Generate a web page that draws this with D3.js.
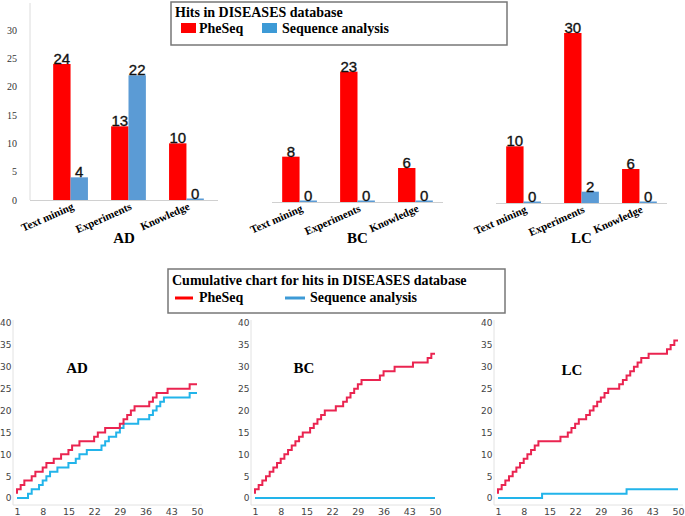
<!DOCTYPE html>
<html>
<head>
<meta charset="utf-8">
<script src="https://cdn.jsdelivr.net/npm/d3@7"></script>
<style>
  body { margin: 0; background: #fff; }
  svg { display: block; }
  .serif { font-family: "Liberation Serif", "Times New Roman", serif; font-weight: bold; fill: #000; }
  .num { font-family: "Liberation Sans", Arial, sans-serif; fill: #111; stroke: #111; stroke-width: 0.35px; }
  .tick text { font-family: "DejaVu Sans", sans-serif; fill: #444; }
</style>
</head>
<body>
<div id="chart"></div>
<script>
var svgWidth = 685;
var svgHeight = 516;

// top row: hits per evidence category
var categories = ["Text mining", "Experiments", "Knowledge"];
var barTicks = [0, 5, 10, 15, 20, 25, 30];

var adPheSeq = [24, 13, 10];
var adSeq = [4, 22, 0];
var bcPheSeq = [8, 23, 6];
var bcSeq = [0, 0, 0];
var lcPheSeq = [10, 30, 6];
var lcSeq = [0, 2, 0];

// bottom row: cumulative hits, k = 1..50
var cumTicksX = [1, 8, 15, 22, 29, 36, 43, 50];
var cumTicksY = [0, 5, 10, 15, 20, 25, 30, 35, 40];

var adPheSeqCum = [1, 2, 3, 4, 4, 5, 6, 6, 7, 8,
  8, 9, 9, 10, 10, 11, 12, 12, 13, 13,
  13, 13, 14, 15, 15, 16, 16, 16, 16, 17,
  18, 19, 20, 21, 21, 21, 21, 22, 23, 24,
  24, 24, 25, 25, 25, 25, 25, 25, 26, 26];
var adSeqCum = [0, 0, 0, 0, 1, 2, 2, 3, 4, 5,
  6, 6, 7, 7, 7, 8, 8, 9, 10, 10,
  11, 11, 11, 11, 12, 13, 14, 14, 15, 16,
  17, 17, 17, 17, 18, 18, 18, 19, 20, 21,
  22, 23, 23, 23, 23, 23, 23, 23, 24, 24];
var bcPheSeqCum = [1, 2, 3, 4, 5, 6, 7, 8, 9, 10,
  11, 12, 13, 14, 15, 15, 16, 17, 18, 19,
  20, 20, 20, 21, 21, 22, 23, 24, 25, 26,
  27, 27, 27, 27, 27, 28, 29, 29, 29, 30,
  30, 30, 30, 30, 31, 31, 31, 31, 32, 33];
var bcSeqCum = [0, 0, 0, 0, 0, 0, 0, 0, 0, 0,
  0, 0, 0, 0, 0, 0, 0, 0, 0, 0,
  0, 0, 0, 0, 0, 0, 0, 0, 0, 0,
  0, 0, 0, 0, 0, 0, 0, 0, 0, 0,
  0, 0, 0, 0, 0, 0, 0, 0, 0, 0];
var lcPheSeqCum = [1, 2, 3, 4, 5, 6, 7, 8, 9, 10,
  11, 12, 13, 13, 13, 13, 13, 13, 14, 14,
  15, 16, 17, 18, 18, 19, 20, 21, 22, 23,
  24, 25, 25, 25, 26, 27, 28, 29, 30, 31,
  32, 32, 33, 33, 33, 33, 33, 34, 35, 36];
var lcSeqCum = [0, 0, 0, 0, 0, 0, 0, 0, 0, 0,
  0, 0, 0, 1, 1, 1, 1, 1, 1, 1,
  1, 1, 1, 1, 1, 1, 1, 1, 1, 1,
  1, 1, 1, 1, 1, 1, 2, 2, 2, 2,
  2, 2, 2, 2, 2, 2, 2, 2, 2, 2];

var barRed = "#ff0000";
var barBlue = "#5b9bd5";
var lineRed = "#ea2450";
var lineBlue = "#22b4ea";

var svg = d3.select("#chart")
  .append("svg")
  .attr("width", svgWidth)
  .attr("height", svgHeight);

// ---- bar panels ----
function drawBars(name, red, blue, p) {
  var g = svg.append("g");

  var x = d3.scaleBand()
    .domain(categories)
    .range([p.bandLeft, p.bandLeft + 197])
    .padding(0.4);

  var sub = d3.scaleBand()
    .domain([0, 1])
    .range([0, x.bandwidth()]);

  var y = d3.scaleLinear()
    .domain([0, 30])
    .range([p.base, p.base - 170]);

  if (p.axis) {
    g.append("line")
      .attr("x1", p.lineLeft).attr("x2", p.lineLeft)
      .attr("y1", p.base).attr("y2", 3)
      .attr("stroke", "#dcdcdc");

    var yAxis = g.append("g")
      .attr("transform", `translate(${p.lineLeft},0)`)
      .call(d3.axisLeft(y).tickValues(barTicks).tickSize(0).tickPadding(13));
    yAxis.select(".domain").remove();
    yAxis.selectAll("text")
      .style("font-family", "'Liberation Serif', serif")
      .style("font-size", "10px")
      .style("fill", "#333");
  }

  var groups = g.selectAll(".grp")
    .data(categories)
    .enter()
    .append("g")
    .attr("transform", d => `translate(${x(d)},0)`);

  var pairs = categories.map((c, i) => [red[i], blue[i]]);

  groups.each(function(c, i) {
    var grp = d3.select(this);
    pairs[i].forEach(function(v, j) {
      var h = Math.max(p.base - y(v), 1.5);
      grp.append("rect")
        .attr("x", sub(j))
        .attr("y", p.base - h)
        .attr("width", sub.bandwidth())
        .attr("height", h)
        .attr("fill", j === 0 ? barRed : barBlue);
      grp.append("text")
        .attr("class", "num")
        .attr("x", sub(j) + sub.bandwidth() / 2)
        .attr("y", p.base - h)
        .attr("text-anchor", "middle")
        .style("font-size", "15px")
        .text(v);
    });
  });

  g.append("line")
    .attr("x1", p.lineLeft).attr("x2", p.lineRight)
    .attr("y1", p.base + 0.5).attr("y2", p.base + 0.5)
    .attr("stroke", "#d0d0d0")
    .attr("stroke-width", 1.2);

  // rotated category labels
  g.selectAll(".cat")
    .data(categories)
    .enter()
    .append("text")
    .attr("class", "serif")
    .attr("text-anchor", "end")
    .style("font-size", "11px")
    .attr("transform", d => `translate(${x(d) + x.bandwidth() / 2 + 4},${p.base + 9}) rotate(-24)`)
    .text(d => d);

  g.append("text")
    .attr("class", "serif")
    .attr("x", (p.lineLeft + p.lineRight) / 2)
    .attr("y", 243)
    .attr("text-anchor", "middle")
    .style("font-size", "15px")
    .text(name);
}

drawBars("AD", adPheSeq, adSeq, { bandLeft: 30, base: 200, lineLeft: 30, lineRight: 218, axis: true });
drawBars("BC", bcPheSeq, bcSeq, { bandLeft: 259, base: 202, lineLeft: 272, lineRight: 443, axis: false });
drawBars("LC", lcPheSeq, lcSeq, { bandLeft: 483, base: 203, lineLeft: 496, lineRight: 667, axis: false });

// top legend
var leg1 = svg.append("g");
leg1.append("rect")
  .attr("x", 171).attr("y", 2).attr("width", 336).attr("height", 43)
  .attr("fill", "#fff").attr("stroke", "#777").attr("stroke-width", 1.5);
leg1.append("text").attr("class", "serif")
  .attr("x", 175).attr("y", 17).style("font-size", "14px")
  .text("Hits in DISEASES database");
leg1.append("rect").attr("x", 181).attr("y", 23).attr("width", 15).attr("height", 10).attr("fill", barRed);
leg1.append("text").attr("class", "serif")
  .attr("x", 199).attr("y", 33).style("font-size", "14px").text("PheSeq");
leg1.append("rect").attr("x", 262).attr("y", 23).attr("width", 15).attr("height", 10).attr("fill", "#3d9ad6");
leg1.append("text").attr("class", "serif")
  .attr("x", 282).attr("y", 33).style("font-size", "14px").text("Sequence analysis");

// ---- cumulative step panels ----
function drawCum(name, red, blue, p) {
  var g = svg.append("g");

  var x = d3.scaleLinear().domain([1, 50]).range([p.left + 4, p.left + 184]);
  var y = d3.scaleLinear().domain([0, 40]).range([498, 323]);

  g.append("line")
    .attr("x1", p.left).attr("x2", p.left)
    .attr("y1", 505).attr("y2", 320)
    .attr("stroke", "#e2e2e2");
  g.append("line")
    .attr("x1", p.left).attr("x2", p.left + 189)
    .attr("y1", 505).attr("y2", 505)
    .attr("stroke", "#e2e2e2");

  var yAxis = g.append("g")
    .attr("transform", `translate(${p.left},0)`)
    .call(d3.axisLeft(y).tickValues(cumTicksY).tickSize(0).tickPadding(1.5));
  yAxis.select(".domain").remove();
  yAxis.selectAll("text").style("font-size", "9px");

  var xAxis = g.append("g")
    .attr("transform", "translate(0,505)")
    .call(d3.axisBottom(x).tickValues(cumTicksX).tickSize(0).tickPadding(3));
  xAxis.select(".domain").remove();
  xAxis.selectAll("text").style("font-size", "9.5px");

  var line = d3.line()
    .x((d, i) => x(i + 1))
    .y(d => y(d))
    .curve(d3.curveStepBefore);

  g.append("path").datum(blue)
    .attr("d", line).attr("fill", "none")
    .attr("stroke", lineBlue).attr("stroke-width", 2);
  g.append("path").datum(red)
    .attr("d", line).attr("fill", "none")
    .attr("stroke", lineRed).attr("stroke-width", 2);

  g.append("text").attr("class", "serif")
    .attr("x", p.labelX).attr("y", p.labelY)
    .attr("text-anchor", "middle")
    .style("font-size", "15px")
    .text(name);
}

drawCum("AD", adPheSeqCum, adSeqCum, { left: 13, labelX: 77, labelY: 373 });
drawCum("BC", bcPheSeqCum, bcSeqCum, { left: 251, labelX: 304, labelY: 373 });
drawCum("LC", lcPheSeqCum, lcSeqCum, { left: 494, labelX: 572, labelY: 375 });

// bottom legend
var leg2 = svg.append("g");
leg2.append("rect")
  .attr("x", 168).attr("y", 269).attr("width", 337).attr("height", 44)
  .attr("fill", "#fff").attr("stroke", "#777").attr("stroke-width", 1.5);
leg2.append("text").attr("class", "serif")
  .attr("x", 172).attr("y", 285).style("font-size", "14px")
  .text("Cumulative chart for hits in DISEASES database");
leg2.append("line").attr("x1", 175).attr("x2", 193).attr("y1", 298).attr("y2", 298)
  .attr("stroke", barRed).attr("stroke-width", 3);
leg2.append("text").attr("class", "serif")
  .attr("x", 199).attr("y", 302).style("font-size", "14px").text("PheSeq");
leg2.append("line").attr("x1", 285).attr("x2", 305).attr("y1", 298).attr("y2", 298)
  .attr("stroke", "#3d9ad6").attr("stroke-width", 3);
leg2.append("text").attr("class", "serif")
  .attr("x", 310).attr("y", 302).style("font-size", "14px").text("Sequence analysis");
</script>
</body>
</html>
